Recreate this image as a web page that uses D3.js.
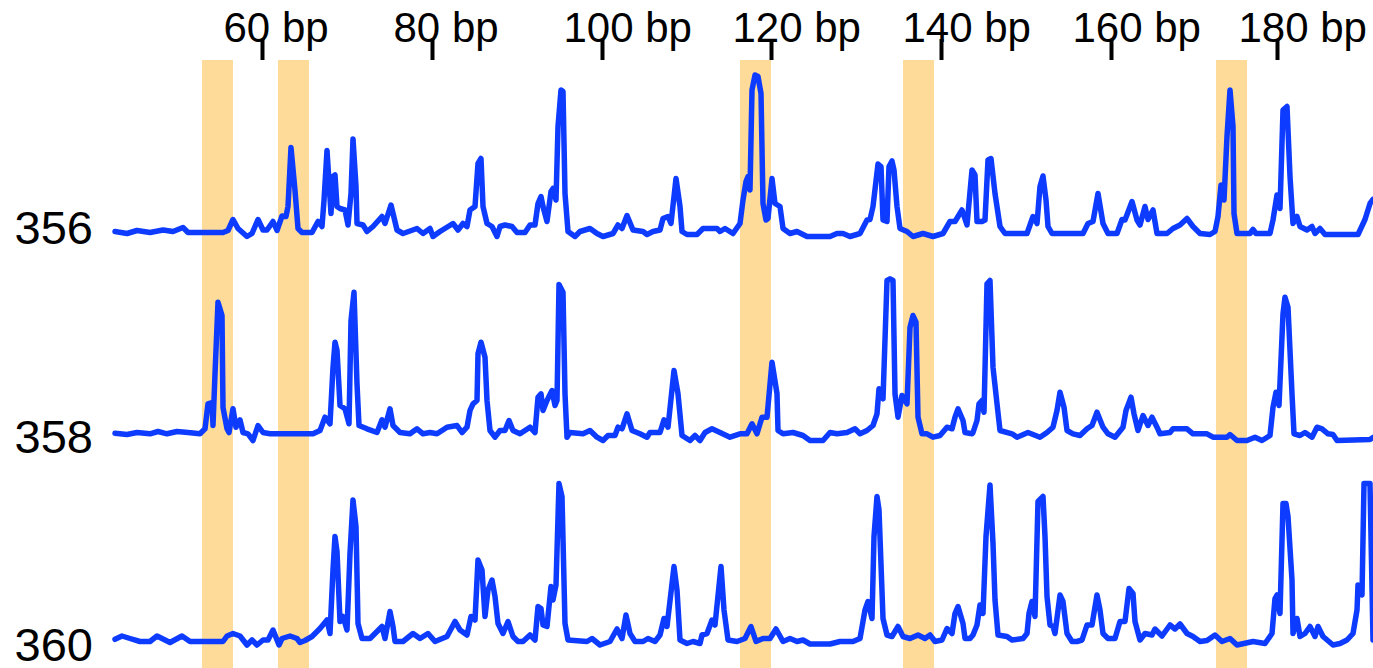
<!DOCTYPE html>
<html><head><meta charset="utf-8">
<script src="https://cdn.jsdelivr.net/npm/d3@7"></script>
<style>body{margin:0;background:#fff} svg{display:block}</style>
</head><body>
<svg id="chart" width="1373" height="668"></svg>
<script>
// ---- data ----
const mzLabels = [356, 358, 360];
const bpTickLabels = [60, 80, 100, 120, 140, 160, 180];
const bpTickScans = [147, 317, 487, 656, 826, 996, 1162];
const highlightBands = [[87,118],[163,194],[625,656],[788,819],[1101,1132]];
const baselineOffsets = [-4.5, 0, 5.5];

const trace356 = [[0,0],[12,-2],[22,1],[35,-1],[48,1.5],[58,0],[68,4],[73,-1],[108,-1],[113,1],[118,12],[123,3],[132,-5],[137,-2],[143,12],[148,1.5],[152,1.5],[158,10],[162,1],[167,15.5],[171,15],[173,25],[176,84],[180,41],[183,3],[187,-1],[197,-1],[203,10],[207,5],[209,31],[212,81],[216,18],[218,55],[220,56.5],[222,25],[225,23],[230,21.5],[233,6.5],[236,38],[238,92.5],[241,45],[242,8],[248,6.5],[252,0],[258,5],[267,15],[270,8],[276,26.5],[282,1.5],[288,-2],[302,3],[308,-2],[315,3],[318,-5],[325,0],[338,8],[343,1.5],[348,8],[352,5],[355,21.5],[360,25],[363,68],[366,73],[368,25],[372,8],[377,5],[382,-5],[385,5],[390,6.5],[397,5],[402,-1],[410,-1],
[415,6.5],[420,6.5],[423,28],[426,35],[428,25],[432,10],[436,40],[438,43],[441,31.5],[443,105],[446,141.5],[448,140],[450,38],[453,0],[460,-5],[465,0],[475,3],[482,-2],[488,-5],[498,-2],[503,6.5],[507,3],[512,16],[518,1.5],[528,0],[532,-3],[538,0],[545,1.5],[548,13],[553,15],[556,8],[561,53],[565,25],[567,0],[572,-3],[582,-3],[588,3],[602,3],[605,0],[610,3],[618,-2],[625,8],[628,31.5],[631,50],[633,55],[635,41.5],[637,141.5],[640,156.5],[643,155],[646,138],[648,28],[651,11.5],[653,13],[657,53],[660,28],[665,25],[668,3],[675,-2],[682,0],[692,-5],[715,-5],[722,-2],[728,-2],[735,-5],[745,-2],[752,11.5],[755,12],[758,25],[763,67.5],[766,65],[768,11.5],[772,10],[774,65],[777,70.5],[779,61.5],[782,25],[785,3],[792,0],[798,-5],[808,-2],[818,-5],[828,-2],[835,10],
[840,10],[847,21.5],[852,6.5],[857,61.5],[860,56.5],[862,10],[867,10],[870,11.5],[873,71.5],[876,73],[880,38],[885,5],[890,-2],[912,-2],[918,15],[922,8],[925,45],[928,55.5],[931,31.5],[933,5],[937,-2],[968,-2],[973,8],[978,10],[983,38],[988,8],[993,-2],[1002,-2],[1007,12],[1010,11.5],[1017,30],[1022,11.5],[1025,6.5],[1030,25],[1033,12],[1038,21.5],[1042,-2],[1052,-2],[1058,3],[1065,6.5],[1072,13],[1078,5],[1085,-2],[1095,-3],[1100,0],[1103,15],[1106,46.5],[1109,31.5],[1112,95],[1115,141.5],[1118,105],[1119,18],[1122,-2],[1135,-2],[1138,2],[1141,-2],[1155,-2],[1158,11.5],[1162,36.5],[1165,23],[1168,121.5],[1172,125],[1175,55],[1178,8],[1182,15],[1185,5],[1192,1.5],[1197,5],[1200,-2],[1205,3],[1210,-3],[1243,-3],[1250,12],[1255,28],[1258,32]];

const trace358 = [[0,2.3],[12,1],[22,3],[35,1.7],[43,4],[52,1.7],[62,4],[73,3],[85,1.7],[90,6.7],[93,31.7],[97,33],[98,10],[100,61.7],[103,133.3],[107,120],[108,28],[112,6.7],[114,3],[118,26.7],[121,8.3],[125,15.7],[128,3],[133,1.7],[138,-5],[143,10],[148,3],[155,1.7],[198,1.7],[205,5],[210,18.3],[215,11.7],[218,68],[220,93.3],[222,85],[225,30],[230,26.7],[234,11.7],[236,115],[239,143.3],[242,51.7],[244,10],[252,6.7],[262,3],[267,15.7],[270,8.3],[275,26.7],[278,10],[285,3],[295,1.7],[302,6.7],[308,1.7],[315,3],[322,1.7],[332,8.3],[342,10],[347,3],[352,8.3],[355,25],[358,31.7],[362,35],[363,81.7],[366,93.3],[370,78.3],[372,35],[375,5],[380,-1.7],[385,5],[390,5],[394,15],[398,5],[405,1.7],[415,8.3],
[420,3],[423,38.3],[426,41.7],[428,25],[432,35],[437,45],[440,30],[442,35],[444,151],[448,143.3],[450,41.7],[452,-1.7],[455,3],[468,1.7],[475,5],[482,-1.7],[488,-5],[493,0],[500,0],[503,8.3],[507,6.7],[512,21.7],[517,5],[525,1.7],[532,-1.7],[535,3],[545,3],[549,15.7],[553,8.3],[559,65],[563,41.7],[567,0],[575,-5],[580,0],[585,-5],[590,3],[597,6.7],[605,3],[615,-1.7],[625,1.7],[632,1.7],[637,11.7],[642,1.7],[647,18.3],[652,18.3],[657,73.3],[662,41.7],[663,5],[668,1.7],[678,3],[688,0],[695,-5],[708,-5],[715,3],[722,1.7],[732,3],[740,6.7],[745,1.7],[752,5],[758,10],[762,21.7],[764,46.7],[768,36.7],[772,155],[775,156.7],[778,155],[780,41.7],[783,18.3],[787,40],[792,31.7],[795,108],[798,120],[801,113.3],[803,18.3],[807,1.7],[812,1.7],[818,-1.7],[825,0],[832,8.3],
[837,6.7],[840,18.3],[843,26.7],[848,15],[850,3],[857,1.7],[858,3],[862,15],[864,31.7],[867,35],[869,23.3],[872,151.7],[875,155],[878,68.3],[882,31.7],[885,5],[897,1.7],[902,-1.7],[913,3],[925,-1.7],[932,3],[938,8.3],[942,25],[945,43.3],[949,28.3],[952,5],[958,1.7],[965,0],[972,6.7],[977,10],[982,23.3],[988,8.3],[993,1.7],[1000,-1.7],[1008,8.3],[1011,25],[1016,38.3],[1019,21.7],[1023,5],[1028,20],[1033,10],[1037,18.3],[1042,8.3],[1045,1.7],[1055,3],[1058,6.7],[1072,6.7],[1078,1.7],[1092,1.7],[1098,-1.7],[1112,-1.7],[1115,1],[1122,-5],[1132,-5],[1140,-1.7],[1147,-5],[1155,0],[1158,28.3],[1161,43.3],[1164,30],[1168,121.7],[1170,138.3],[1173,128.3],[1177,41.7],[1179,1.7],[1185,0],[1190,3],[1197,-1.7],[1202,8.3],[1207,6.7],[1213,1.7],[1218,1],[1222,-5],[1255,-4],[1258,-2]];

const trace360 = [[0,-0.8],[7,2.5],[15,0],[25,-3],[35,-3],[42,2.5],[55,-4],[67,2.5],[75,-3],[108,-3],[112,2.5],[118,5],[125,2.5],[132,-6.5],[137,-1.5],[142,-6.5],[148,-1.5],[153,-1.5],[158,8.5],[164,-6.5],[167,0],[175,2.5],[182,0],[185,-4],[190,-2],[197,2],[205,10],[212,18.5],[215,5],[218,68.5],[220,102],[222,87],[225,17],[228,22],[232,8.5],[235,85],[238,138.5],[241,112],[243,15],[247,0],[255,0],[260,5],[267,12],[270,0],[275,27],[278,12],[280,-3],[288,-3],[298,5],[305,0],[313,5],[320,-3],[332,2],[340,17],[345,8.5],[352,3.5],[356,22],[360,18.5],[363,78.5],[367,68.5],[370,22],[373,48.5],[377,58.5],[380,42],[383,15],[388,5],[393,17],[398,2],[403,-3],[408,-3],[415,3.5],
[420,-1.5],[423,32],[426,30],[428,13.5],[432,12],[436,52],[438,38.5],[441,53.5],[444,155],[447,142],[450,15],[453,-1.5],[472,-3],[477,0],[485,-6.5],[495,-3],[502,9.5],[507,0],[511,23.5],[515,5],[520,-3],[528,-3],[533,0],[540,-3],[545,3.5],[549,20],[552,12],[559,72],[562,48.5],[565,-1.5],[572,-5],[578,-3],[585,-5],[587,3.5],[592,5],[597,18.5],[600,13.5],[606,72],[609,28.5],[613,-1.5],[622,-3],[630,0],[636,12],[641,-3],[648,0],[655,0],[661,9.5],[668,-3],[675,0],[682,-3],[688,-1.5],[695,-5.5],[715,-5.5],[725,-3],[738,-3],[745,0],[750,28.5],[753,37],[757,20],[759,102],[762,142],[764,128.5],[768,20],[772,3.5],[777,2],[783,12],[788,2],[795,0],[803,3.5],[810,0],[815,3.5],[820,-3],[827,-1.5],
[832,10],[837,5],[840,25],[843,32],[848,15],[850,0],[855,0],[858,3.5],[862,13.5],[865,33.5],[868,25],[871,102],[875,153.5],[878,95],[880,38.5],[883,3.5],[892,2],[897,-1.5],[908,0],[912,5],[914,25],[917,37],[920,22],[923,137],[928,142],[930,102],[932,42],[935,13.5],[938,12],[940,5],[945,43.5],[948,37],[952,5],[957,-3],[962,-3],[967,-1.5],[972,13.5],[977,13.5],[982,43.5],[985,28.5],[988,5],[993,0],[1000,0],[1005,17],[1010,17],[1014,50],[1018,45],[1020,17],[1025,-1.5],[1030,5],[1037,3.5],[1040,9.5],[1047,2.5],[1055,13.5],[1060,9.5],[1065,14.5],[1072,5],[1078,2],[1085,-3],[1092,-2],[1100,3.5],[1107,-3],[1115,0],[1122,-6.5],[1138,-3],[1150,-5],[1157,5],[1160,40],[1162,43.5],[1165,25],[1168,135],[1171,135],[1173,122],[1177,58.5],[1178,5],[1182,20],[1185,2],[1190,5],[1195,12],[1200,2],[1203,12],[1208,2],[1218,-6.5],[1225,-5],[1232,-1.5],[1238,5],[1242,28.5],[1243,53.5],[1247,43.5],[1249,155],[1255,155],[1258,-1.5]];

const traces = [trace356, trace358, trace360];

// ---- chart ----
const W = 1373, H = 668, plotTop = 60;
const font = '"Liberation Sans", Arial, Helvetica, sans-serif';
const x = d3.scaleLinear().domain([0, 1258]).range([115, 1373]);
const y = d3.scaleLinear().domain([356, 360]).range([227, 644]);
const h = d3.scaleLinear().domain([0, 100]).range([0, 100]);

const svg = d3.select('#chart');

svg.append('g').selectAll('rect').data(highlightBands).join('rect')
  .attr('x', d => x(d[0])).attr('width', d => x(d[1]) - x(d[0]))
  .attr('y', plotTop).attr('height', H - plotTop)
  .attr('fill', '#FFDB99');

const xAxis = d3.axisTop(x).tickValues(bpTickScans)
  .tickFormat((d, i) => bpTickLabels[i] + ' bp').tickSize(21).tickPadding(0);
const gx = svg.append('g').attr('transform', `translate(0,${plotTop})`).call(xAxis);
gx.select('.domain').remove();
gx.selectAll('.tick line').attr('stroke', '#000').attr('stroke-width', 4);
gx.selectAll('.tick text')
  .attr('font-family', font).attr('font-size', 42).attr('fill', '#000')
  .attr('text-anchor', 'start').attr('x', -39).attr('y', -18).attr('dy', 0);

const yAxis = d3.axisLeft(y).tickValues(mzLabels).tickFormat(d3.format('d'))
  .tickSize(0).tickPadding(0);
const gy = svg.append('g').attr('transform', 'translate(93,0)').call(yAxis);
gy.select('.domain').remove();
gy.selectAll('.tick text')
  .attr('font-family', font).attr('font-size', 47).attr('fill', '#000')
  .attr('text-anchor', 'end').attr('x', 0).attr('dy', '0.36em');

traces.forEach((tr, i) => {
  const mz = mzLabels[i];
  const line = d3.line()
    .x(d => x(d[0]))
    .y(d => y(mz) - h(d[1] + baselineOffsets[i]));
  svg.append('path').datum(tr)
    .attr('d', line)
    .attr('fill', 'none')
    .attr('stroke', '#0D3BFF')
    .attr('stroke-width', 5.5)
    .attr('stroke-linejoin', 'round')
    .attr('stroke-linecap', 'round');
});
</script>
</body></html>
